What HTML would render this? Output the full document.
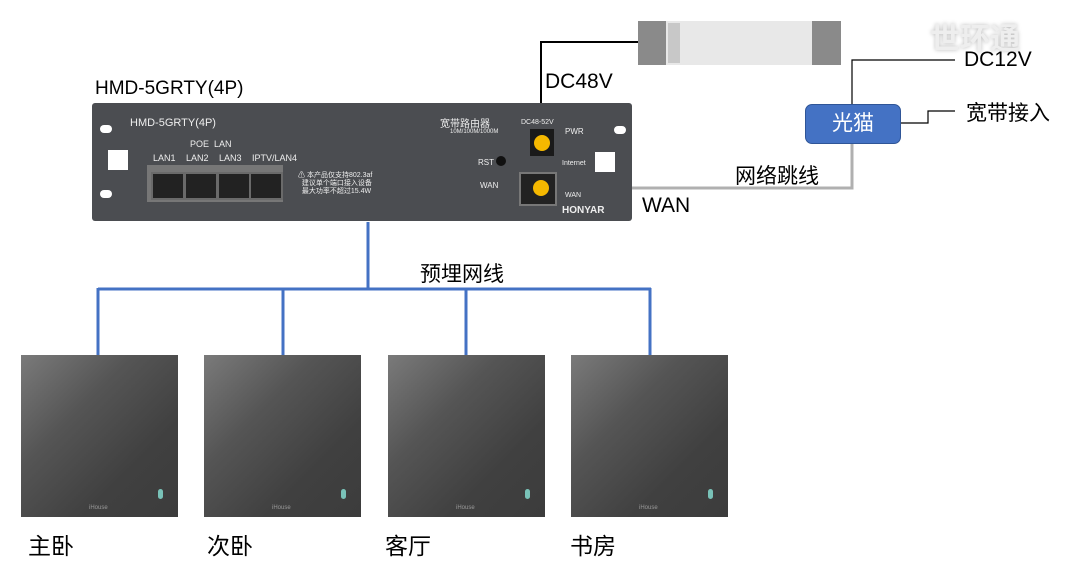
<!DOCTYPE html>
<html><head><meta charset="utf-8"><style>
body{margin:0;width:1074px;height:564px;background:#fff;position:relative;overflow:hidden;font-family:"Liberation Sans","Noto Sans CJK SC",sans-serif}
.a{position:absolute}
.pan{position:absolute;top:355px;width:157px;height:162px;background:linear-gradient(135deg,#7a7a7a 0%,#555 35%,#404040 70%,#3c3c3c 100%)}
.pan .led{position:absolute;left:137px;top:134px;width:5px;height:10px;border-radius:3px;background:#79c2b8}
.pan .lg{position:absolute;left:68px;top:150px;font-size:6px;color:#999}
.lbl{position:absolute;top:527px;font-size:23px;color:#000}
.port{position:absolute;top:172px;width:30px;height:24px;background:#222;border:2px solid #6a6a6a}
.w{color:#eee}
</style></head><body>
<svg class="a" style="left:0;top:0" width="1074" height="564">
<g stroke="#4472c4" stroke-width="3" fill="none">
<line x1="368" y1="222" x2="368" y2="289"/>
<line x1="98" y1="289" x2="651" y2="289"/>
<line x1="98" y1="288" x2="98" y2="355"/>
<line x1="283" y1="288" x2="283" y2="355"/>
<line x1="466" y1="288" x2="466" y2="355"/>
<line x1="650" y1="288" x2="650" y2="355"/>
</g>
<polyline points="541,140 541,42 646,42" stroke="#000" stroke-width="2" fill="none"/>
<polyline points="545,188 852,188 852,142" stroke="#b0b0b0" stroke-width="3" fill="none"/>
<polyline points="852,104 852,60 955,60" stroke="#000" stroke-width="1.2" fill="none"/>
<polyline points="899,123 928,123 928,111 955,111" stroke="#000" stroke-width="1.2" fill="none"/>
</svg>
<div class="a" style="left:638px;top:21px;width:203px;height:44px;background:#e8e8e8"></div>
<div class="a" style="left:638px;top:21px;width:28px;height:44px;background:#8a8a8a"></div>
<div class="a" style="left:812px;top:21px;width:29px;height:44px;background:#8a8a8a"></div>
<div class="a" style="left:668px;top:23px;width:12px;height:40px;background:#c8c8c8"></div>
<div class="a" style="left:930px;top:14px;font-size:30px;font-weight:bold;color:#eee;text-shadow:0 0 4px #bbb">世环通</div>
<div class="a" style="left:92px;top:103px;width:540px;height:118px;background:#4b4d51;border-radius:3px"></div>
<div class="a" style="left:95px;top:78px;font-size:19px">HMD-5GRTY(4P)</div>
<div class="a w" style="left:130px;top:117px;font-size:11px">HMD-5GRTY(4P)</div>
<div class="a w" style="left:190px;top:139px;font-size:9px">POE&nbsp;&nbsp;LAN</div>
<div class="a w" style="left:153px;top:153px;font-size:9px;word-spacing:8px">LAN1 LAN2 LAN3 IPTV/LAN4</div>
<div class="a" style="left:147px;top:165px;width:136px;height:37px;background:#777"></div>
<div class="port" style="left:151px"></div><div class="port" style="left:184px"></div><div class="port" style="left:217px"></div><div class="port" style="left:249px"></div>
<div class="a w" style="left:298px;top:172px;font-size:7px;line-height:8px">⚠ 本产品仅支持802.3af<br>&nbsp;&nbsp;建议单个端口接入设备<br>&nbsp;&nbsp;最大功率不超过15.4W</div>
<div class="a w" style="left:440px;top:115px;font-size:10px">宽带路由器</div>
<div class="a w" style="left:450px;top:129px;font-size:6px">10M/100M/1000M</div>
<div class="a w" style="left:521px;top:119px;font-size:7px">DC48-52V</div>
<div class="a" style="left:530px;top:129px;width:24px;height:27px;background:#1a1a1a"></div>
<div class="a" style="left:534px;top:135px;width:16px;height:16px;border-radius:50%;background:#f5b800"></div>
<div class="a w" style="left:565px;top:127px;font-size:8px">PWR</div>
<div class="a w" style="left:562px;top:160px;font-size:7px">Internet</div>
<div class="a w" style="left:478px;top:158px;font-size:8px">RST</div>
<div class="a" style="left:496px;top:156px;width:10px;height:10px;border-radius:50%;background:#111"></div>
<div class="a w" style="left:480px;top:181px;font-size:8px">WAN</div>
<div class="a" style="left:519px;top:172px;width:34px;height:30px;background:#222;border:2px solid #777"></div>
<div class="a" style="left:533px;top:180px;width:16px;height:16px;border-radius:50%;background:#f5b800"></div>
<div class="a w" style="left:565px;top:192px;font-size:7px">WAN</div>
<div class="a w" style="left:562px;top:205px;font-size:10px;font-weight:bold">HONYAR</div>
<div class="a" style="left:100px;top:125px;width:12px;height:8px;background:#fff;border-radius:4px"></div>
<div class="a" style="left:100px;top:190px;width:12px;height:8px;background:#fff;border-radius:4px"></div>
<div class="a" style="left:108px;top:150px;width:20px;height:20px;background:#fff"></div>
<div class="a" style="left:595px;top:152px;width:20px;height:20px;background:#fff"></div>
<div class="a" style="left:614px;top:126px;width:12px;height:8px;background:#fff;border-radius:4px"></div>
<div class="a" style="left:545px;top:70px;font-size:21px">DC48V</div>
<div class="a" style="left:642px;top:194px;font-size:21px">WAN</div>
<div class="a" style="left:735px;top:160px;font-size:21px">网络跳线</div>
<div class="a" style="left:964px;top:48px;font-size:21px">DC12V</div>
<div class="a" style="left:966px;top:97px;font-size:21px">宽带接入</div>
<div class="a" style="left:805px;top:104px;width:94px;height:38px;background:#4472c4;border-radius:7px;border:1px solid #2f5597;color:#fff;font-size:21px;text-align:center;line-height:38px">光猫</div>
<div class="a" style="left:420px;top:258px;font-size:21px">预埋网线</div>
<div class="pan" style="left:21px"><div class="led"></div><div class="lg">iHouse</div></div>
<div class="pan" style="left:204px"><div class="led"></div><div class="lg">iHouse</div></div>
<div class="pan" style="left:388px"><div class="led"></div><div class="lg">iHouse</div></div>
<div class="pan" style="left:571px"><div class="led"></div><div class="lg">iHouse</div></div>
<div class="lbl" style="left:28px">主卧</div>
<div class="lbl" style="left:207px">次卧</div>
<div class="lbl" style="left:385px">客厅</div>
<div class="lbl" style="left:570px">书房</div>
</body></html>
